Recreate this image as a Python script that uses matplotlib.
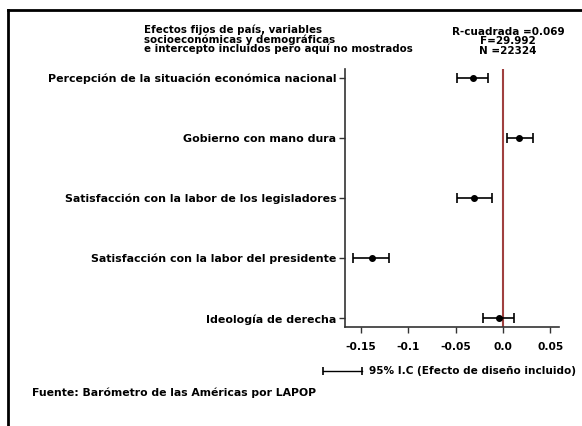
import matplotlib
matplotlib.use('Agg')
import matplotlib.pyplot as plt
from matplotlib.lines import Line2D

plt.rcParams['font.family'] = ['DejaVu Sans']
plt.rcParams['font.weight'] = 'bold'

variables = [
    'Percepción de la situación económica nacional',
    'Gobierno con mano dura',
    'Satisfacción con la labor de los legisladores',
    'Satisfacción con la labor del presidente',
    'Ideología de derecha',
]
coef = [-0.0317, 0.0169, -0.0303, -0.1388, -0.0042]
ci_low = [-0.0483, 0.0039, -0.0486, -0.1582, -0.0208]
ci_high = [-0.0155, 0.0314, -0.0113, -0.1199, 0.0119]
xticks = [-0.15, -0.1, -0.05, 0.0, 0.05]
xtick_labels = ['-0.15', '-0.1', '-0.05', '0.0', '0.05']
nota = ['Efectos fijos de país, variables',
        'socioeconómicas y demográficas',
        'e intercepto incluidos pero aquí no mostrados']
estadisticos = ['R-cuadrada =0.069', 'F=29.992', 'N =22324']

W, H = 582, 426
fig = plt.figure(figsize=(W / 100, H / 100), dpi=100)
ax = fig.add_axes([344.7 / W, 1 - 327 / H, (559 - 344.7) / W, (327 - 69) / H])

ypos = list(range(1, len(variables) + 1))
err = [[c - lo for c, lo in zip(coef, ci_low)], [hi - c for c, hi in zip(coef, ci_high)]]
ax.axvline(0, color='#a0403f', lw=1.5, zorder=1)
ax.errorbar(coef, ypos, xerr=err, fmt='o', color='black', ms=4,
            elinewidth=1.2, capsize=3.5, capthick=1.2, zorder=3)

ax.set_ylim(5.145, 0.855)
ax.set_xlim(-0.1672, 0.0592)
ax.set_yticks(ypos)
ax.set_yticklabels(variables, fontsize=7.95, fontweight='bold')
ax.set_xticks(xticks)
ax.set_xticklabels(xtick_labels, fontsize=7.7, fontweight='bold')
ax.tick_params(axis='both', length=4, width=1, color='#333333', pad=2)
ax.tick_params(axis='x', pad=7)
for s in ['top', 'right']:
    ax.spines[s].set_visible(False)
for s in ['left', 'bottom']:
    ax.spines[s].set_linewidth(1.2)
    ax.spines[s].set_color('#333333')

fig.text(144 / W, 1 - 39.5 / H, '\n'.join(nota), ha='left', va='center',
         fontsize=7.35, fontweight='bold', linespacing=0.86)
fig.text(508 / W, 1 - 41.5 / H, '\n'.join(estadisticos), ha='center', va='center',
         fontsize=7.5, fontweight='bold', linespacing=0.88)

# leyenda del intervalo de confianza
fig.add_artist(Line2D([322.7 / W, 361.7 / W], [1 - 370.7 / H] * 2, color='black',
                      lw=1, marker='|', ms=6, mew=1.2))
fig.text(369 / W, 1 - 370.7 / H, '95% I.C (Efecto de diseño incluido)',
         ha='left', va='center', fontsize=7.6, fontweight='bold')
fig.text(31.7 / W, 1 - 393 / H, 'Fuente: Barómetro de las Américas por LAPOP',
         ha='left', va='center', fontsize=7.85, fontweight='bold')

# marco
fig.add_artist(Line2D([8 / W, 1], [1 - 10 / H] * 2, color='black', lw=2))
fig.add_artist(Line2D([8 / W, 8 / W], [0, 1 - 10 / H], color='black', lw=2))

fig.savefig('out.png', dpi=100)
